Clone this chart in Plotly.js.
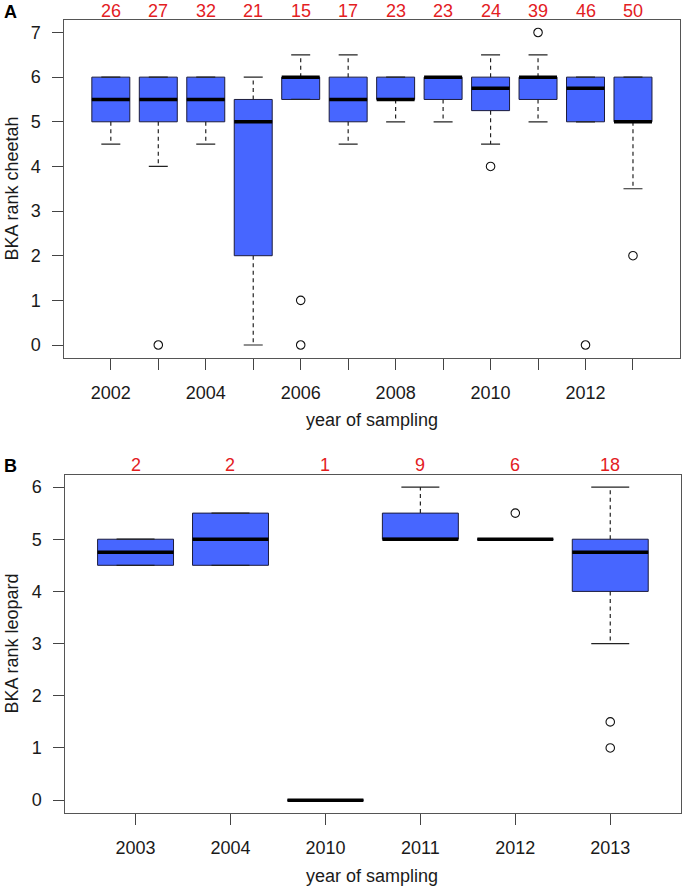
<!DOCTYPE html>
<html>
<head>
<meta charset="utf-8">
<script src="https://cdn.plot.ly/plotly-3.0.1.min.js"></script>
<style>html,body{margin:0;padding:0;background:#fff}#chart{width:683px;height:886px}</style>
</head>
<body>
<div id="chart"></div>
<script>
// ---- Panel A: cheetah ----
const cheetahYears = [2002, 2003, 2004, 2005, 2006, 2007, 2008, 2009, 2010, 2011, 2012, 2013];
const cheetahN     = [26, 27, 32, 21, 15, 17, 23, 23, 24, 39, 46, 50];
const cheetahQ1    = [5, 5, 5, 2, 5.5, 5, 5.5, 5.5, 5.25, 5.5, 5, 5];
const cheetahMed   = [5.5, 5.5, 5.5, 5, 6, 5.5, 5.5, 6, 5.75, 6, 5.75, 5];
const cheetahQ3    = [6, 6, 6, 5.5, 6, 6, 6, 6, 6, 6, 6, 6];
const cheetahLo    = [4.5, 4, 4.5, 0, 5.5, 4.5, 5, 5, 4.5, 5, 5, 3.5];
const cheetahHi    = [6, 6, 6, 6, 6.5, 6.5, 6, 6, 6.5, 6.5, 6, 6];
const cheetahOutYear = [2003, 2006, 2006, 2010, 2011, 2012, 2013];
const cheetahOutVal  = [0, 1, 0, 4, 7, 0, 2];
const cheetahTickText = ['2002', '', '2004', '', '2006', '', '2008', '', '2010', '', '2012', ''];

// ---- Panel B: leopard ----
const leopardLabels = ['2003', '2004', '2010', '2011', '2012', '2013'];
const leopardN      = [2, 2, 1, 9, 6, 18];
const leopardQ1     = [4.5, 4.5, 0, 5, 5, 4];
const leopardMed    = [4.75, 5, 0, 5, 5, 4.75];
const leopardQ3     = [5, 5.5, 0, 5.5, 5, 5];
const leopardLo     = [4.5, 4.5, 0, 5, 5, 3];
const leopardHi     = [5, 5.5, 0, 6, 5, 6];
const leopardOutLabel = ['2012', '2013', '2013'];
const leopardOutVal   = [5.5, 1.5, 1];

// ---- styles ----
const FONT = 'Liberation Sans, Arial, sans-serif';
const FS = 18;
const BOXFILL = '#4766ff';
const BOXLINE = '#1c1c3c';
const HALF = 0.4, STAPLE = 0.2;

function panelTraces(pos, q1, med, q3, lo, hi, outX, outY, xa, ya) {
  const wx = [], wy = [], sx = [], sy = [], mx = [], my = [];
  pos.forEach((p, i) => {
    if (hi[i] > q3[i]) { wx.push(p, p, null); wy.push(q3[i], hi[i], null); }
    if (lo[i] < q1[i]) { wx.push(p, p, null); wy.push(q1[i], lo[i], null); }
    sx.push(p - STAPLE, p + STAPLE, null, p - STAPLE, p + STAPLE, null);
    sy.push(hi[i], hi[i], null, lo[i], lo[i], null);
    mx.push(p - HALF, p + HALF, null);
    my.push(med[i], med[i], null);
  });
  return [
    {type: 'box', x: pos, q1: q1, median: med, q3: q3, lowerfence: q1, upperfence: q3,
     width: 2 * HALF, fillcolor: BOXFILL, line: {color: BOXLINE, width: 1}, whiskerwidth: 0,
     boxpoints: false, hoverinfo: 'skip', showlegend: false, xaxis: xa, yaxis: ya},
    {type: 'scatter', mode: 'lines', x: wx, y: wy, line: {color: '#222', width: 1.2, dash: '4px,3.5px'},
     hoverinfo: 'skip', showlegend: false, xaxis: xa, yaxis: ya},
    {type: 'scatter', mode: 'lines', x: sx, y: sy, line: {color: '#222', width: 1.2},
     hoverinfo: 'skip', showlegend: false, xaxis: xa, yaxis: ya},
    {type: 'scatter', mode: 'lines', x: mx, y: my, line: {color: '#000', width: 3.5},
     hoverinfo: 'skip', showlegend: false, xaxis: xa, yaxis: ya},
    {type: 'scatter', mode: 'markers', x: outX, y: outY,
     marker: {symbol: 'circle-open', size: 8.5, color: '#111', line: {width: 1.1, color: '#111'}},
     hoverinfo: 'skip', showlegend: false, xaxis: xa, yaxis: ya}
  ];
}

const leopardPos = leopardLabels.map((_, i) => i + 1);
const leopardOutPos = leopardOutLabel.map(l => leopardLabels.indexOf(l) + 1);

const data = [
  ...panelTraces(cheetahYears, cheetahQ1, cheetahMed, cheetahQ3, cheetahLo, cheetahHi,
                 cheetahOutYear, cheetahOutVal, 'x', 'y'),
  ...panelTraces(leopardPos, leopardQ1, leopardMed, leopardQ3, leopardLo, leopardHi,
                 leopardOutPos, leopardOutVal, 'x2', 'y2')
];

const W = 683, H = 886;
const px = v => v / W, py = v => 1 - v / H;

const axisCommon = {
  showgrid: false, zeroline: false, showline: true, mirror: true, linecolor: '#555', linewidth: 1,
  ticks: 'outside', ticklen: 11, tickwidth: 1, tickcolor: '#444',
  tickfont: {family: FONT, size: FS, color: '#1a1a1a'}, fixedrange: true
};

const annotations = [];
cheetahYears.forEach((yr, i) => annotations.push({
  xref: 'x', yref: 'paper', x: yr, y: py(11), text: String(cheetahN[i]), showarrow: false,
  xanchor: 'center', yanchor: 'middle', font: {family: FONT, size: FS, color: '#e3201f'}
}));
leopardPos.forEach((p, i) => annotations.push({
  xref: 'x2', yref: 'paper', x: p, y: py(465), text: String(leopardN[i]), showarrow: false,
  xanchor: 'center', yanchor: 'middle', font: {family: FONT, size: FS, color: '#e3201f'}
}));
const textAnn = (t, x, y, extra) => Object.assign({
  xref: 'paper', yref: 'paper', x: px(x), y: py(y), text: t, showarrow: false,
  xanchor: 'center', yanchor: 'middle', font: {family: FONT, size: FS, color: '#1a1a1a'}
}, extra || {});
annotations.push(textAnn('<b>A</b>', 10, 12, {font: {family: FONT, size: 18, color: '#000'}}));
annotations.push(textAnn('<b>B</b>', 10, 466, {font: {family: FONT, size: 18, color: '#000'}}));
annotations.push(textAnn('year of sampling', 372, 420));
annotations.push(textAnn('year of sampling', 372, 876));
annotations.push(textAnn('BKA rank cheetah', 11, 188.5, {textangle: -90}));
annotations.push(textAnn('BKA rank leopard', 11, 643.5, {textangle: -90}));

const layout = {
  width: W, height: H, margin: {l: 0, r: 0, t: 0, b: 0},
  paper_bgcolor: '#fff', plot_bgcolor: '#fff', showlegend: false,
  xaxis: Object.assign({}, axisCommon, {
    domain: [px(64.3), px(679.5)], anchor: 'y', range: [2001.02, 2013.98],
    tickvals: cheetahYears, ticktext: cheetahTickText, ticklabelstandoff: 8
  }),
  yaxis: Object.assign({}, axisCommon, {
    domain: [py(357.5), py(20)], anchor: 'x', range: [-0.28, 7.28],
    tickvals: [0, 1, 2, 3, 4, 5, 6, 7], ticklabelstandoff: 8
  }),
  xaxis2: Object.assign({}, axisCommon, {
    domain: [px(65.3), px(680.5)], anchor: 'y2', range: [0.26, 6.74],
    tickvals: leopardPos, ticktext: leopardLabels, ticklabelstandoff: 8
  }),
  yaxis2: Object.assign({}, axisCommon, {
    domain: [py(812.7), py(474.5)], anchor: 'x2', range: [-0.24, 6.24],
    tickvals: [0, 1, 2, 3, 4, 5, 6], ticklabelstandoff: 8
  }),
  annotations: annotations
};

Plotly.newPlot('chart', data, layout, {staticPlot: true, displayModeBar: false});
</script>
</body>
</html>
